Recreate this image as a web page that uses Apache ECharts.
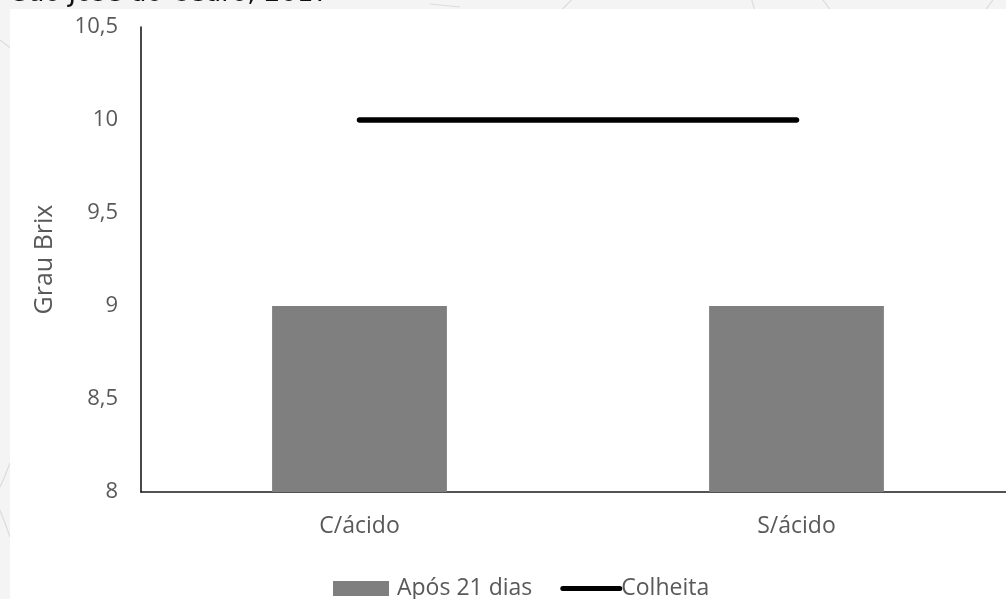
<!DOCTYPE html>
<html>
<head>
<meta charset="utf-8">
<style>
  html, body { margin: 0; padding: 0; background: #f5f4f5; }
  #chart { width: 1006px; height: 599px; }
</style>
<script src="https://cdn.jsdelivr.net/npm/echarts@6/dist/echarts.min.js"></script>
</head>
<body>
<div id="chart"></div>
<script>
// Brix readings per treatment
const categories = ['C/ácido', 'S/ácido'];
const afterStorage = [9, 9];      // Após 21 dias
const atHarvest = [10, 10];       // Colheita
const seriesNames = ['Após 21 dias', 'Colheita'];
const yTicks = { min: 8, max: 10.5, step: 0.5 };
const titleText = 'São José do Cedro, 2017';

const labelColor = '#595959';
const labelFont = 'Open Sans';

// faint decorative curves in the page margins
const decoCurves = [
  [[0, 40], [20, 55], [40, 70], [60, 90]],
  [[10, 463], [4, 478], [0, 490], [-6, 497]],
  [[-6, 497], [0, 510], [6, 525], [10, 537]],
  [[748, -10], [752, 0], [754, 6], [755, 12]],
  [[815, -10], [820, -4], [826, 4], [832, 12]],
  [[1000, -10], [995, -3], [990, 4], [984, 12]],
  [[430, 4], [440, 5], [450, 6], [460, 7]],
  [[560, 12], [565, 6], [570, 2], [575, -4]]
];

const chart = echarts.init(document.getElementById('chart'));

const graphics = decoCurves.map(p => ({
  type: 'bezierCurve',
  z: -20,
  shape: { x1: p[0][0], y1: p[0][1], cpx1: p[1][0], cpy1: p[1][1], cpx2: p[2][0], cpy2: p[2][1], x2: p[3][0], y2: p[3][1] },
  style: { stroke: '#dcdcdc', lineWidth: 1.2, fill: null }
}));
graphics.push({
  type: 'rect', z: -10,
  shape: { x: 10, y: 9, width: 1000, height: 600 },
  style: { fill: '#ffffff' }
});
graphics.push({
  type: 'text', z: 5,
  x: 12, y: -6,
  style: {
    text: titleText,
    fill: '#111111',
    font: '26px "DejaVu Sans"',
    verticalAlign: 'middle',
    align: 'left'
  }
});

chart.setOption({
  backgroundColor: '#f5f4f5',
  animation: false,
  graphic: graphics,
  // the plot runs a little past the right edge of the page
  grid: { left: 141, width: 874, top: 27, bottom: 107, outerBoundsMode: 'none' },
  legend: {
    left: 328,
    top: 572,
    itemWidth: 62,
    itemHeight: 15,
    itemGap: 28,
    textStyle: { color: labelColor, fontSize: 23, fontFamily: labelFont },
    data: [
      { name: seriesNames[0], icon: 'path://M0,0H56V15H0Z' },
      {
        name: seriesNames[1],
        icon: 'path://M2.5,0H59.5A2.5,2.5 0 0 1 59.5,5H2.5A2.5,2.5 0 0 1 2.5,0Z',
        itemStyle: { color: '#000000' },
        textStyle: { padding: [0, 0, 0, -6] }
      }
    ]
  },
  xAxis: {
    type: 'category',
    data: categories,
    axisLine: { lineStyle: { color: '#1a1a1a', width: 1.6 } },
    axisTick: { show: false },
    axisLabel: { color: labelColor, fontSize: 23, fontFamily: labelFont, margin: 23 }
  },
  yAxis: {
    type: 'value',
    min: yTicks.min,
    max: yTicks.max,
    interval: yTicks.step,
    name: 'Grau Brix',
    nameLocation: 'middle',
    nameRotate: 90,
    nameGap: 84,
    nameTextStyle: { color: labelColor, fontSize: 25, fontFamily: labelFont },
    axisLine: { show: true, lineStyle: { color: '#1a1a1a', width: 1.6 } },
    axisTick: { show: false },
    splitLine: { show: false },
    axisLabel: {
      color: labelColor, fontSize: 22, fontFamily: labelFont, margin: 23,
      formatter: v => String(v).replace('.', ',')
    }
  },
  series: [
    {
      name: seriesNames[0],
      type: 'bar',
      data: afterStorage,
      barWidth: '40%',
      itemStyle: { color: '#7f7f7f' }
    },
    {
      name: seriesNames[1],
      type: 'line',
      data: atHarvest,
      symbol: 'none',
      lineStyle: { color: '#000000', width: 5.5, cap: 'round' },
      itemStyle: { color: '#000000' }
    }
  ]
});
</script>
</body>
</html>
